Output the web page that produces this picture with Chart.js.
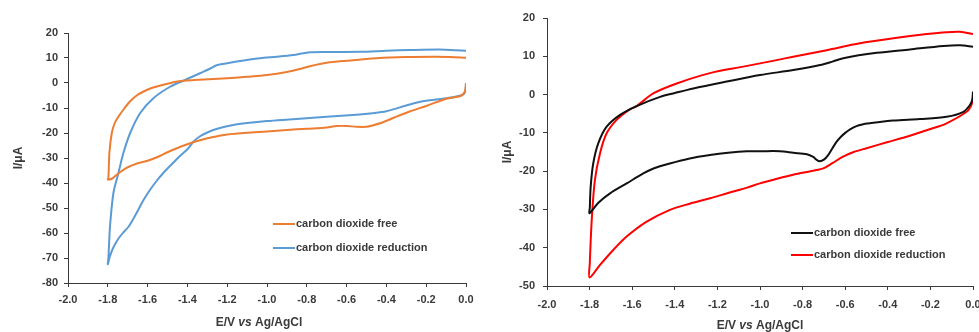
<!DOCTYPE html>
<html>
<head>
<meta charset="utf-8">
<script src="https://cdn.jsdelivr.net/npm/chart.js@4.4.1/dist/chart.umd.min.js"></script>
<style>
  html, body { margin: 0; padding: 0; background: #fff; }
  #wrap { position: relative; width: 979px; height: 332px; overflow: hidden; }
  canvas { position: absolute; top: 0; }
</style>
</head>
<body>
<div id="wrap">
  <canvas id="left" width="480" height="332" style="left:0"></canvas>
  <canvas id="right" width="489" height="332" style="left:490px"></canvas>
</div>
<script>
// labels
const seriesNames = ['carbon dioxide free', 'carbon dioxide reduction'];

// left panel, carbon dioxide free (cathodic sweep then return)
const leftFreeV = [0.0, -0.004, -0.015, -0.03, -0.1, -0.2, -0.28, -0.36, -0.42, -0.47, -0.5, -0.55, -0.6, -0.65, -0.7, -0.8, -0.9, -1.0, -1.1, -1.2, -1.25, -1.3, -1.35, -1.4, -1.45, -1.5, -1.55, -1.6, -1.65, -1.7, -1.73, -1.76, -1.78, -1.8,
  -1.797, -1.792, -1.78, -1.765, -1.747, -1.72, -1.69, -1.655, -1.62, -1.58, -1.54, -1.5, -1.45, -1.4, -1.34, -1.2, -1.1, -1.0, -0.9, -0.84, -0.78, -0.7, -0.6, -0.45, -0.3, -0.16, -0.08, 0.0];
const leftFreeI = [0.0, -3.0, -4.5, -5.3, -6.3, -9.2, -11.3, -13.8, -15.8, -17.0, -17.5, -17.5, -17.2, -17.2, -17.8, -18.3, -18.8, -19.4, -19.9, -20.6, -21.3, -22.1, -23.2, -24.5, -26.0, -27.7, -29.6, -31.1, -32.1, -33.7, -35.2, -37.0, -38.3, -38.6,
  -38.0, -28.0, -20.0, -16.0, -13.5, -10.5, -7.5, -5.0, -3.4, -2.0, -1.1, -0.3, 0.6, 1.0, 1.3, 1.9, 2.5, 3.2, 4.4, 5.5, 6.8, 8.1, 8.9, 9.9, 10.4, 10.5, 10.4, 10.1];

// left panel, carbon dioxide reduction
const leftRedV = [0.0, -0.004, -0.02, -0.1, -0.23, -0.3, -0.4, -0.47, -0.55, -0.7, -0.87, -1.0, -1.1, -1.17, -1.25, -1.3, -1.34, -1.37, -1.4, -1.44, -1.48, -1.52, -1.555, -1.59, -1.622, -1.65, -1.675, -1.695, -1.715, -1.735, -1.755, -1.775, -1.79, -1.8,
  -1.797, -1.789, -1.772, -1.747, -1.722, -1.688, -1.638, -1.571, -1.487, -1.404, -1.337, -1.29, -1.253, -1.2, -1.152, -1.035, -0.951, -0.868, -0.818, -0.784, -0.7, -0.533, -0.4, -0.281, -0.131, -0.05, 0.0];
const leftRedI = [0.0, -3.5, -4.8, -6.1, -7.5, -9.0, -11.3, -12.1, -12.7, -13.5, -14.5, -15.2, -16.0, -16.8, -18.3, -19.8, -21.5, -23.5, -26.5, -29.4, -32.6, -35.9, -39.2, -43.0, -47.0, -51.2, -54.8, -57.4, -59.2, -61.0, -63.3, -66.3, -69.5, -72.5,
  -70.0, -57.5, -44.1, -36.1, -28.1, -20.1, -12.1, -6.1, -1.5, 1.5, 3.9, 5.6, 7.1, 7.9, 8.6, 9.9, 10.5, 11.2, 11.9, 12.3, 12.4, 12.5, 12.9, 13.2, 13.4, 13.1, 12.9];

// right panel, carbon dioxide free
const rightFreeV = [0.0, -0.004, -0.014, -0.045, -0.124, -0.25, -0.374, -0.484, -0.52, -0.55, -0.575, -0.6, -0.62, -0.64, -0.66, -0.68, -0.7, -0.72, -0.735, -0.75, -0.78, -0.844, -0.906, -1.0, -1.062, -1.15, -1.235, -1.33, -1.423, -1.5, -1.548, -1.626, -1.704, -1.76, -1.8,
  -1.799, -1.795, -1.783, -1.759, -1.72, -1.657, -1.579, -1.469, -1.4, -1.313, -1.156, -1.0, -0.844, -0.718, -0.66, -0.609, -0.452, -0.296, -0.139, -0.061, 0.0];
const rightFreeI = [0.8, -1.5, -2.7, -4.5, -5.8, -6.4, -6.8, -7.5, -7.8, -8.3, -9.0, -10.0, -11.0, -12.3, -14.0, -15.8, -17.0, -17.4, -17.0, -16.3, -15.6, -15.2, -14.8, -14.8, -14.8, -15.2, -15.8, -16.7, -18.0, -19.3, -20.6, -23.2, -25.8, -28.3, -31.0,
  -29.5, -24.1, -18.0, -12.7, -8.4, -5.3, -3.0, -0.6, 0.4, 1.6, 3.4, 5.1, 6.4, 7.7, 8.6, 9.5, 10.9, 11.8, 12.7, 12.9, 12.5];

// right panel, carbon dioxide reduction
const rightRedV = [0.0, -0.003, -0.008, -0.03, -0.124, -0.2, -0.3, -0.4, -0.5, -0.56, -0.61, -0.66, -0.7, -0.75, -0.84, -0.92, -1.0, -1.06, -1.15, -1.235, -1.33, -1.423, -1.532, -1.626, -1.689, -1.751, -1.8,
  -1.799, -1.79, -1.775, -1.751, -1.72, -1.673, -1.61, -1.579, -1.501, -1.391, -1.235, -1.078, -0.922, -0.844, -0.687, -0.531, -0.374, -0.217, -0.124, -0.061, 0.0];
const rightRedI = [-0.8, -1.8, -2.8, -4.5, -7.5, -9.0, -10.8, -12.4, -14.0, -15.0, -16.2, -17.9, -19.2, -19.9, -20.9, -22.0, -23.2, -24.3, -25.7, -27.1, -28.5, -30.1, -33.2, -37.1, -40.6, -44.5, -47.8,
  -44.0, -32.8, -22.3, -15.3, -10.1, -6.6, -3.8, -3.0, 0.3, 2.9, 5.6, 7.3, 9.0, 9.9, 11.6, 13.4, 14.7, 15.8, 16.3, 16.4, 15.8];

const textColor = '#3a3a3a';
const axisColor = '#3a3a3a';
const fontFamily = '"Liberation Sans", Arial, sans-serif';
const tickFont = { family: fontFamily, size: 11, weight: 'bold' };
const titleFont = { family: fontFamily, size: 12, weight: 'bold' };

function pts(vs, is) {
  return vs.map((v, i) => ({ x: v, y: is[i] }));
}

function fmt(v) {
  if (Math.abs(v) < 1e-9) return '0.0';
  return v.toFixed(1);
}

// legend + x title with italic "vs"
const overlay = {
  id: 'overlay',
  afterDraw(chart, args, o) {
    const { ctx, chartArea: a } = chart;
    ctx.save();
    ctx.textBaseline = 'middle';
    ctx.font = 'bold 11px ' + fontFamily;
    chart.data.datasets.forEach((ds, i) => {
      const x = a.left + o.legendX;
      const y = a.top + o.legendY[i];
      ctx.strokeStyle = ds.borderColor;
      ctx.lineWidth = 2;
      ctx.beginPath();
      ctx.moveTo(x, y);
      ctx.lineTo(x + 22, y);
      ctx.stroke();
      ctx.fillStyle = textColor;
      ctx.textAlign = 'left';
      ctx.fillText(ds.label, x + 23, y);
    });

    const parts = [['E/V ', 'bold'], ['vs', 'italic bold'], [' Ag/AgCl', 'bold']];
    let total = 0;
    parts.forEach(p => {
      ctx.font = p[1] + ' 12px ' + fontFamily;
      p.w = ctx.measureText(p[0]).width;
      total += p.w;
    });
    let x = a.left + o.titleX - total / 2;
    const y = a.bottom + o.titleY;
    ctx.fillStyle = textColor;
    ctx.textAlign = 'left';
    parts.forEach(p => {
      ctx.font = p[1] + ' 12px ' + fontFamily;
      ctx.fillText(p[0], x, y);
      x += p.w;
    });
    ctx.restore();
  }
};

function makeChart(id, datasets, cfg) {
  return new Chart(document.getElementById(id), {
    type: 'scatter',
    data: { datasets },
    plugins: [overlay],
    options: {
      responsive: false,
      animation: false,
      devicePixelRatio: 1,
      layout: { padding: { top: cfg.top, right: cfg.right, bottom: 0, left: 0 } },
      elements: { point: { radius: 0 } },
      plugins: {
        legend: { display: false },
        tooltip: { enabled: false },
        overlay: cfg.overlay
      },
      scales: {
        x: {
          type: 'linear',
          min: -2, max: 0,
          ticks: { stepSize: 0.2, autoSkip: false, maxRotation: 0, font: tickFont, color: textColor, padding: cfg.xPad, callback: v => fmt(v) },
          grid: { drawOnChartArea: false, tickLength: 4, color: axisColor },
          border: { color: axisColor, width: 1 },
          afterFit: s => { s.height = cfg.xHeight; s.paddingLeft = 0; s.paddingRight = 0; }
        },
        y: {
          min: cfg.yMin, max: cfg.yMax,
          ticks: { stepSize: 10, font: tickFont, color: textColor, padding: cfg.yPad },
          grid: { drawOnChartArea: false, tickLength: 4, color: axisColor },
          border: { color: axisColor, width: 1 },
          title: { display: true, text: 'I/μA', font: titleFont, color: textColor, padding: { top: cfg.yTitlePad, bottom: 0 } },
          afterFit: s => { s.width = cfg.yWidth; }
        }
      }
    }
  });
}

function line(label, v, i, color) {
  return { label, data: pts(v, i), showLine: true, borderColor: color, backgroundColor: color, borderWidth: 2, tension: 0.3, fill: false };
}

makeChart('left', [
  line(seriesNames[0], leftFreeV, leftFreeI, '#ED7D31'),
  line(seriesNames[1], leftRedV, leftRedI, '#5B9BD5')
], {
  top: 33, right: 14, xHeight: 49, yWidth: 68, yMin: -80, yMax: 20,
  xPad: 6, yPad: 6, yTitlePad: 11,
  overlay: { legendX: 205, legendY: [191, 215], titleX: 191, titleY: 40 }
});

makeChart('right', [
  line(seriesNames[0], rightFreeV, rightFreeI, '#111111'),
  line(seriesNames[1], rightRedV, rightRedI, '#FF0000')
], {
  top: 18, right: 6, xHeight: 46, yWidth: 57, yMin: -50, yMax: 20,
  xPad: 8, yPad: 8, yTitlePad: 10,
  overlay: { legendX: 244, legendY: [215, 237], titleX: 213, titleY: 40 }
});
</script>
</body>
</html>
